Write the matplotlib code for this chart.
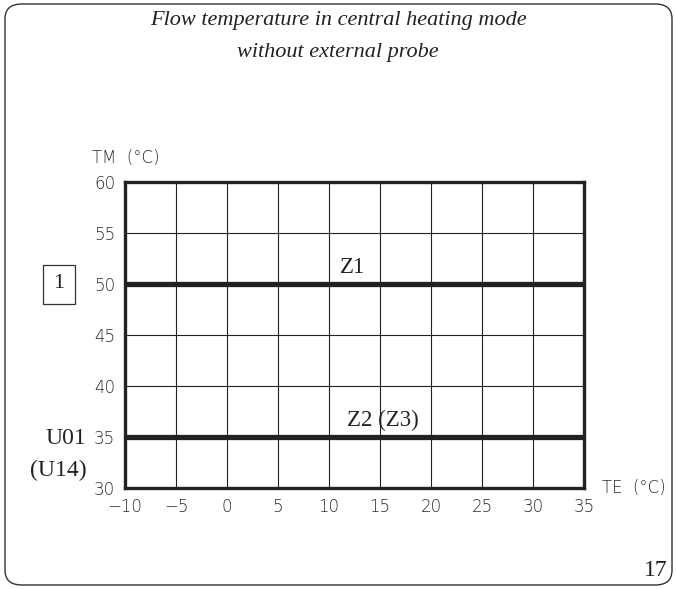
import matplotlib
matplotlib.use("Agg")
import matplotlib.pyplot as plt
from matplotlib.patches import FancyBboxPatch

W, H = 676, 589
te_ticks = [-10, -5, 0, 5, 10, 15, 20, 25, 30, 35]
tm_ticks = [30, 35, 40, 45, 50, 55, 60]
curve_names = ["Z1", "Z2 (Z3)"]
curve_tm = [50, 35]
label_te = [12.3, 15.3]
te_range = [-10, 35]

fig = plt.figure(figsize=(W / 100, H / 100), dpi=100)

def fx(px):
    return px / W

def fy(py):
    return 1 - py / H

# outer rounded frame
frame = FancyBboxPatch((fx(5), fy(585)), fx(667), 581 / H,
                       boxstyle="round,pad=0,rounding_size=0.025",
                       transform=fig.transFigure, fill=False,
                       edgecolor="#333333", linewidth=1.0)
fig.patches.append(frame)

tick_font = dict(family="DejaVu Sans", weight="light")
tick_col = "#2a2a2a"

ax = fig.add_axes([fx(125), fy(488), fx(584 - 125), (488 - 182) / H])
ax.set_xlim(te_range)
ax.set_ylim(tm_ticks[0], tm_ticks[-1])
ax.set_xticks(te_ticks)
ax.set_yticks(tm_ticks)
ax.grid(True, color="#222222", linewidth=0.8)
ax.tick_params(length=0, labelsize=12, labelcolor=tick_col, pad=7)
ax.set_xticklabels(["\u221210" if t == -10 else ("\u22125" if t == -5 else str(t)) for t in te_ticks],
                   **tick_font)
ax.set_yticklabels([str(t) for t in tm_ticks], **tick_font)
for s in ax.spines.values():
    s.set_linewidth(2.4)
    s.set_color("#222222")

for name, tm, lx in zip(curve_names, curve_tm, label_te):
    ax.plot(te_range, [tm, tm], color="#222222", linewidth=3.8, solid_capstyle="butt")
    ax.text(lx, tm + 0.55, name, ha="center", va="bottom", fontsize=16.5,
            family="Liberation Serif", color="#222222")

serif_it = dict(family="Liberation Serif", style="italic", fontsize=16, color="#222222")
fig.text(0.5, fy(21), "Flow temperature in central heating mode", ha="center", va="center", **serif_it)
fig.text(0.5, fy(52), "without external probe", ha="center", va="center", **serif_it)

fig.text(fx(92), fy(158), "TM  (°C)", ha="left", va="center", fontsize=12, color=tick_col, **tick_font)
fig.text(fx(602), fy(488), "TE  (°C)", ha="left", va="center", fontsize=12, color=tick_col, **tick_font)

fig.text(fx(59), fy(284), "1", ha="center", va="center", fontsize=16, family="Liberation Serif",
         color="#222222",
         bbox=dict(boxstyle="square,pad=0.45", fc="white", ec="#333333", lw=0.9))
fig.text(fx(86), fy(438), "U01", ha="right", va="center", fontsize=17, family="Liberation Serif", color="#222222")
fig.text(fx(87), fy(470), "(U14)", ha="right", va="center", fontsize=17, family="Liberation Serif", color="#222222")
fig.text(fx(668), fy(571), "17", ha="right", va="center", fontsize=17, family="Liberation Serif", color="#222222")

fig.savefig("out.png", dpi=100)
